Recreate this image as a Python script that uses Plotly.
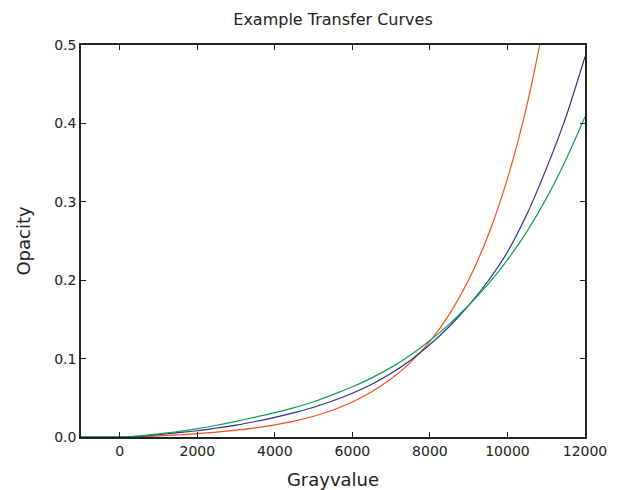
import plotly.graph_objects as go

gray = [-1000, 0, 500, 1000, 1500, 2000, 2500, 3000, 3500, 4000, 4500, 5000, 5500, 6000, 6500,
        7000, 7500, 8000, 8500, 9000, 9500, 10000, 10500, 11000, 11500, 12000]
red_op = [0, 0, 0.0005, 0.0014, 0.0027, 0.0042, 0.0062, 0.0087, 0.0117, 0.0155, 0.0203, 0.0265, 0.0345,
          0.0447, 0.0577, 0.0742, 0.0952, 0.122, 0.1564, 0.2005, 0.2571, 0.3296, 0.4226, 0.5418, None, None]
blue_op = [0, 0, 0.001, 0.003, 0.0055, 0.008, 0.0115, 0.0152, 0.0198, 0.025, 0.031, 0.038, 0.0462,
           0.0558, 0.0672, 0.0812, 0.098, 0.118, 0.141, 0.168, 0.199, 0.236, 0.284, 0.342, 0.407, 0.485]
green_op = [0, 0, 0.0013, 0.004, 0.007, 0.0106, 0.015, 0.020, 0.0253, 0.031, 0.0375, 0.045, 0.054,
            0.064, 0.0754, 0.0888, 0.1045, 0.123, 0.144, 0.168, 0.195, 0.226, 0.262, 0.304, 0.353, 0.4085]
tick_vals = [0, 2000, 4000, 6000, 8000, 10000, 12000]
tick_text = ["0", "2000", "4000", "6000", "8000", "10000", "12000"]
ytick_vals = [0, 0.1, 0.2, 0.3, 0.4, 0.5]
ytick_text = ["0.0", "0.1", "0.2", "0.3", "0.4", "0.5"]

series = [
    ("Red", red_op, "#f4511e"),
    ("Blue", blue_op, "#2e3192"),
    ("Green", green_op, "#10a050"),
]

fig = go.Figure()
for name, vals, col in series:
    xs = [x for x, v in zip(gray, vals) if v is not None]
    ys = [v for v in vals if v is not None]
    fig.add_trace(go.Scatter(x=xs, y=ys, mode="lines", name=name,
                             line=dict(color=col, width=1.2, shape="spline", smoothing=0.8)))

font = "DejaVu Sans, sans-serif"
fig.update_layout(
    width=616, height=482,
    margin=dict(l=73, r=39, t=37, b=53),
    paper_bgcolor="white", plot_bgcolor="white",
    showlegend=False,
    title=dict(text="Example Transfer Curves", x=0.5, xref="paper", y=0.977, yref="container",
               xanchor="center", yanchor="middle", font=dict(family=font, size=16, color="#222")),
    font=dict(family=font, color="#222"),
)
axis_common = dict(showline=True, linecolor="#222", linewidth=1.5, mirror="ticks",
                   ticks="inside", ticklen=5, tickcolor="#222", tickwidth=1.2,
                   showgrid=False, zeroline=False, tickfont=dict(size=14, family=font, color="#222"))
fig.update_xaxes(range=[-1000, 12000], tickvals=tick_vals, ticktext=tick_text, automargin=False,
                 title=dict(text="Grayvalue", font=dict(size=18, family=font, color="#222"), standoff=17),
                 **axis_common)
fig.update_yaxes(range=[0, 0.5], tickvals=ytick_vals, ticktext=ytick_text,
                 title=dict(text="Opacity", font=dict(size=18, family=font, color="#222"), standoff=19),
                 **axis_common)

fig.write_html("out.html")
